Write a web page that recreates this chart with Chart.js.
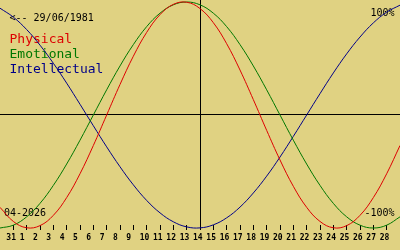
<!DOCTYPE html>
<html>
<head>
<meta charset="utf-8">
<script src="https://cdn.jsdelivr.net/npm/chart.js@4/dist/chart.umd.min.js"></script>
<style>
    html, body { margin: 0; padding: 0; background: #e0d282; }
    #wrap { width: 400px; height: 250px; position: relative; }
</style>
</head>
<body>
<div id="wrap"><canvas id="chartBio"></canvas></div>
<script>
// days shown (first and last are only there so the curves reach the edges)
const dayLabels = ['30', '31', '1', '2', '3', '4', '5', '6', '7', '8', '9', '10', '11', '12', '13', '14',
    '15', '16', '17', '18', '19', '20', '21', '22', '23', '24', '25', '26', '27', '28', '29'];

const physical = [-0.817, -0.942, -0.998, -0.979, -0.888, -0.731, -0.520, -0.270, 0, 0.270, 0.520,
    0.731, 0.888, 0.979, 0.998, 0.942, 0.817, 0.631, 0.398, 0.136, -0.136, -0.398, -0.631, -0.817,
    -0.942, -0.998, -0.979, -0.888, -0.731, -0.520, -0.270];

const emotional = [-1, -0.975, -0.901, -0.782, -0.623, -0.434, -0.223, 0, 0.223, 0.434, 0.623,
    0.782, 0.901, 0.975, 1, 0.975, 0.901, 0.782, 0.623, 0.434, 0.223, 0, -0.223, -0.434, -0.623,
    -0.782, -0.901, -0.975, -1, -0.975, -0.901];

const intellectual = [0.945, 0.866, 0.756, 0.618, 0.458, 0.282, 0.095, -0.095, -0.282, -0.458, -0.618,
    -0.756, -0.866, -0.945, -0.990, -0.999, -0.972, -0.910, -0.815, -0.690, -0.541, -0.372, -0.189, 0,
    0.189, 0.372, 0.541, 0.690, 0.815, 0.910, 0.972];

const birthText = '<-- 29/06/1981';
const monthText = '04-2026';
const todayIndex = 15;   // '14'

const RED = '#dd0000';
const GREEN = '#007700';
const BLUE = '#000088';
const MONO = '"DejaVu Sans Mono", "Liberation Mono", monospace';

// texts drawn on the plot (under the curves)
const textPlugin = {
    id: 'bioTexts',
    beforeDatasetsDraw(chart) {
        const ctx = chart.ctx;
        ctx.save();
        ctx.textBaseline = 'alphabetic';
        ctx.textAlign = 'left';
        ctx.font = '10px ' + MONO;
        ctx.fillStyle = '#000';
        ctx.fillText(birthText, 9.5, 21);
        ctx.fillText(monthText, 4, 216);
        ctx.textAlign = 'right';
        ctx.fillText('100%', 394.5, 16);
        ctx.fillText('-100%', 394.5, 216);

        ctx.textAlign = 'left';
        ctx.font = '13px ' + MONO;
        const names = chart.data.datasets;
        const rows = [42.5, 58, 73];
        names.forEach((d, i) => {
            ctx.fillStyle = d.borderColor;
            ctx.fillText(d.label, 9.5, rows[i]);
        });
        ctx.restore();
    }
};

const lineDs = (label, data, color) => ({
    label, data,
    borderColor: color,
    borderWidth: 1,
    pointRadius: 0,
    pointHoverRadius: 0,
    pointHitRadius: 0,
    tension: 0.4,
    clip: false,
    fill: false
});

new Chart(document.getElementById('chartBio').getContext('2d'), {
    type: 'line',
    data: {
        labels: dayLabels,
        datasets: [
            lineDs('Physical', physical, RED),
            lineDs('Emotional', emotional, GREEN),
            lineDs('Intellectual', intellectual, BLUE)
        ]
    },
    options: {
        responsive: true,
        maintainAspectRatio: false,
        animation: false,
        // x axis is 5 (ticks) + 16.8 (labels) high -> chart area ends at y=225
        layout: { autoPadding: false, padding: { left: 0, right: 0, top: 0, bottom: 3.2 } },
        plugins: {
            legend: { display: false },
            tooltip: { enabled: false }
        },
        scales: {
            x: {
                offset: false,
                border: { display: false },
                grid: {
                    display: true,
                    drawOnChartArea: true,
                    color: ctx => ctx.index === todayIndex ? '#000' : 'rgba(0,0,0,0)',
                    tickColor: ctx => (ctx.index === 0 || ctx.index === dayLabels.length - 1) ? 'rgba(0,0,0,0)' : '#000',
                    tickLength: 5,
                    lineWidth: 1
                },
                ticks: {
                    autoSkip: false,
                    maxRotation: 0,
                    align: 'start',
                    labelOffset: -7,
                    padding: 0,
                    color: '#000',
                    font: { family: MONO, size: 8, weight: 'bold', lineHeight: 2.1 },
                    callback: (v, i) => (i === 0 || i === dayLabels.length - 1) ? '' : dayLabels[i]
                }
            },
            y: {
                min: -110 / 113,
                max: 115 / 113,
                border: { display: false },
                afterBuildTicks: scale => { scale.ticks = [{ value: 0 }]; },
                grid: { color: '#000', lineWidth: 1, drawTicks: false },
                ticks: { display: false }
            }
        }
    },
    plugins: [textPlugin]
});
</script>
</body>
</html>
